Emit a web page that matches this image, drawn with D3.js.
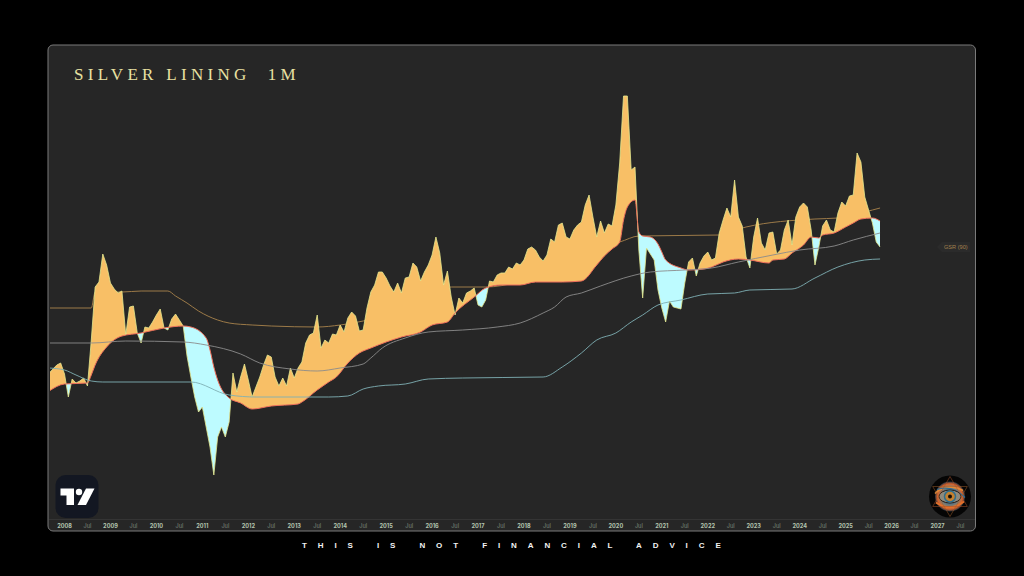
<!DOCTYPE html>
<html>
<head>
<meta charset="utf-8">
<script src="https://cdn.jsdelivr.net/npm/d3@7"></script>
<style>
  html, body { margin: 0; padding: 0; background: #000; }
  svg { display: block; }
  .tick-year { fill: #b4c4b0; font-weight: 700; }
  .tick-jul { fill: #7d8a7d; }
</style>
</head>
<body>
<svg id="chart" width="1024" height="576"></svg>
<script>
// chart units are relative (the reference has no price axis)
// bar number 0 = Jan 2008, one bar per month
const firstBar = -4;
const ratio = [
  157,161,165,167,156,133,151,147,149,152,144,190,243,248,276,265,247,241,237,239,
  195,223,224,197,187,203,202,208,215,221,202,200,211,216,210,204,174,153,133,118,
  123,103,83,55,93,103,93,108,157,138,153,166,150,133,143,153,165,175,173,153,
  144,152,144,162,152,162,168,187,195,197,215,182,190,187,196,195,205,198,212,218,
  214,199,200,222,238,245,258,258,252,244,238,247,237,252,253,267,263,249,258,265,
  275,293,277,245,259,233,215,232,227,237,239,242,225,223,230,249,248,255,257,257,
  263,261,267,265,270,281,283,280,273,269,275,291,288,305,307,293,291,300,305,308,
  325,335,313,293,309,297,306,304,325,367,434,434,360,363,280,232,282,276,270,240,
  222,208,229,223,222,221,247,268,272,254,267,274,278,270,272,297,310,322,313,350,
  313,304,273,262,293,312,287,280,297,298,276,280,300,310,285,313,323,327,323,300,
  265,283,304,310,300,298,317,328,324,334,335,377,368,333,320,307,288,283
];

const basisBars = [-4,0,6,7,8,11,15,20,26,31,33,37,38,39,40,43,46,49,54,61,62,66,69,71,74,77,80,84,88,93,96,100,102,107,110,114,119,123,130,135,139,141,143,145,146,147,149,150,151,153,155,156,157,161,163,167,169,172,176,179,184,185,188,190,193,195,197,198,201,204,206,208,211,213];
const basisValues = [139,146,147,155,165,183,194,197,202,204,203,192,180,163,150,132,127,121,124,126,128,140,148,153,167,177,182,188,193,198,205,208,217,233,242,245,245,248,248,249,265,274,281,288,310,323,330,298,294,293,286,278,270,262,260,261,263,268,271,270,267,270,271,277,285,293,292,295,297,303,307,311,312,309];

const gsrBars = [-4,7,8,15,20,27,29,32,35,40,43,49,54,66,72,78,101,110,144,145,150,171,178,196,202,211,213];
const gsrValues = [222,222,238,238,239,239,234,227,219,210,207,205,204,203,205,209,243,243,287,288,294,295,303,311,312,320,322];

const greyBars = [-4,7,16,31,37,46,51,59,66,72,78,80,83,89,95,104,113,119,125,128,131,135,140,148,153,162,169,176,185,192,201,206,213];
const greyValues = [187,187,189,188,185,176,167,161,159,162,166,172,182,192,198,200,203,207,217,223,233,237,244,254,258,260,262,268,275,280,284,290,297];

const tealBars = [-4,0,3,7,10,33,43,50,69,74,78,82,89,95,104,125,130,135,139,144,148,151,155,161,168,175,179,190,196,202,209,213];
const tealValues = [162,160,155,149,148,148,135,133,133,134,141,144,146,151,152,153,163,177,190,197,208,215,225,230,236,237,240,241,252,263,270,271];

const tickBars = d3.range(0, 40).map(d => d * 6);
const tickLabels = ["2008","Jul","2009","Jul","2010","Jul","2011","Jul","2012","Jul","2013","Jul","2014","Jul","2015","Jul","2016","Jul","2017","Jul","2018","Jul","2019","Jul","2020","Jul","2021","Jul","2022","Jul","2023","Jul","2024","Jul","2025","Jul","2026","Jul","2027","Jul"];

const orange = "#f8bf66", cyan = "#bdfbff";

const svg = d3.select("#chart");
const defs = svg.append("defs");

const x = d3.scaleLinear().domain([0, 228]).range([64.5, 937.5]);
const y = d3.scaleLinear().domain([0, 434]).range([530, 96]);

const ratioPts = ratio.map((v, i) => [firstBar + i, v]);
const zip = (bars, vals) => bars.map((b, i) => [b, vals[i]]);

const line = d3.line().x(d => x(d[0])).y(d => y(d[1]));
const smooth = d3.line().x(d => x(d[0])).y(d => y(d[1])).curve(d3.curveMonotoneX);

// panel
svg.append("rect")
  .attr("x", 48).attr("y", 45).attr("width", 927.5).attr("height", 486)
  .attr("rx", 5)
  .attr("fill", "#262626").attr("stroke", "#7a7a7a").attr("stroke-width", 1);

svg.append("line")
  .attr("x1", 49).attr("x2", 975).attr("y1", 519.5).attr("y2", 519.5)
  .attr("stroke", "#343434");

svg.append("clipPath").attr("id", "pane").append("rect")
  .attr("x", 50).attr("y", 46).attr("width", 924).attr("height", 473);

// clip regions on either side of the basis line
const basisPts = zip(basisBars, basisValues);
defs.append("clipPath").attr("id", "aboveBasis").append("path")
  .attr("d", d3.area().curve(d3.curveMonotoneX).x(d => x(d[0])).y0(0).y1(d => y(d[1]))(basisPts));
defs.append("clipPath").attr("id", "belowBasis").append("path")
  .attr("d", d3.area().curve(d3.curveMonotoneX).x(d => x(d[0])).y0(576).y1(d => y(d[1]))(basisPts));

const g = svg.append("g").attr("clip-path", "url(#pane)");

// gsr line sits under the fill
g.append("path")
  .attr("d", smooth(zip(gsrBars, gsrValues)))
  .attr("fill", "none").attr("stroke", "#9c7a48").attr("stroke-width", 1);

g.append("g").attr("clip-path", "url(#aboveBasis)").append("path")
  .attr("d", d3.area().x(d => x(d[0])).y0(576).y1(d => y(d[1]))(ratioPts))
  .attr("fill", orange);

g.append("g").attr("clip-path", "url(#belowBasis)").append("path")
  .attr("d", d3.area().x(d => x(d[0])).y0(0).y1(d => y(d[1]))(ratioPts))
  .attr("fill", cyan);

g.append("path")
  .attr("d", line(ratioPts))
  .attr("fill", "none").attr("stroke", "#e4e88e").attr("stroke-width", 0.8);

g.append("path")
  .attr("d", smooth(basisPts))
  .attr("fill", "none").attr("stroke", "#ef6f5c").attr("stroke-width", 1);

g.append("path")
  .attr("d", smooth(zip(greyBars, greyValues)))
  .attr("fill", "none").attr("stroke", "#8b8b8b").attr("stroke-width", 0.9);

g.append("path")
  .attr("d", smooth(zip(tealBars, tealValues)))
  .attr("fill", "none").attr("stroke", "#7fb0b4").attr("stroke-width", 0.9);

// time axis
const axis = d3.axisBottom(x)
  .tickValues(tickBars)
  .tickSize(0)
  .tickPadding(0)
  .tickFormat((d, i) => tickLabels[i]);

const axisG = svg.append("g").attr("transform", "translate(-0.5,524.5)").call(axis);
axisG.select(".domain").remove();
axisG.selectAll("text")
  .attr("font-family", "Inter, 'Liberation Sans', sans-serif")
  .attr("font-size", 5.6)
  .attr("class", (d, i) => tickLabels[i] === "Jul" ? "tick-jul" : "tick-year");

// titles
svg.append("text")
  .attr("x", 74).attr("y", 79.5)
  .attr("font-family", "'Liberation Serif', serif")
  .attr("font-size", 17)
  .attr("letter-spacing", 4.3)
  .attr("fill", "#e9e1a2")
  .style("white-space", "pre")
  .text("SILVER LINING  1M");

svg.append("text")
  .attr("x", 302).attr("y", 547.5)
  .attr("font-family", "'Liberation Sans', sans-serif")
  .attr("font-weight", 700)
  .attr("font-size", 8)
  .attr("letter-spacing", 10.9)
  .attr("fill", "#f2f2f2")
  .style("white-space", "pre")
  .text("THIS IS NOT FINANCIAL ADVICE");

// gsr tag on the right
svg.append("path")
  .attr("d", "M937,247 L942,242 H970 V252 H942 Z")
  .attr("fill", "#2b2b2b");
svg.append("text")
  .attr("x", 944).attr("y", 249)
  .attr("font-family", "'Liberation Sans', sans-serif")
  .attr("font-size", 5.6)
  .attr("fill", "#a5824e")
  .text("GSR (90)");

// tradingview logo
const logo = svg.append("g").attr("transform", "translate(55.5,475)");
logo.append("rect").attr("width", 43).attr("height", 43).attr("rx", 10).attr("fill", "#131722");
logo.append("path").attr("d", "M5,13.5 H18.5 V30 H11 V20.5 H5 Z").attr("fill", "#fff");
logo.append("circle").attr("cx", 23.5).attr("cy", 17).attr("r", 3.2).attr("fill", "#fff");
logo.append("path").attr("d", "M30.5,13.5 H39 L30.5,30 H22 Z").attr("fill", "#fff");

// eye avatar
const eye = svg.append("g").attr("transform", "translate(950,496.5)");
const iris = defs.append("radialGradient").attr("id", "iris");
iris.append("stop").attr("offset", "0%").attr("stop-color", "#2a1a10");
iris.append("stop").attr("offset", "22%").attr("stop-color", "#c97f2c");
iris.append("stop").attr("offset", "42%").attr("stop-color", "#3f6f8e");
iris.append("stop").attr("offset", "66%").attr("stop-color", "#8a7c6a");
iris.append("stop").attr("offset", "84%").attr("stop-color", "#d8622a");
iris.append("stop").attr("offset", "100%").attr("stop-color", "#24323f");
eye.append("circle").attr("r", 21).attr("fill", "#050505");
eye.append("circle").attr("r", 15).attr("fill", "url(#iris)");
eye.append("path").attr("d", "M-15,-3 Q-4,-14 13,-6").attr("fill", "none").attr("stroke", "#e08a3a").attr("stroke-width", 1.6);
eye.append("path").attr("d", "M-13,-7 Q2,-12 15,1").attr("fill", "none").attr("stroke", "#2f6f94").attr("stroke-width", 1.3);
eye.append("path").attr("d", "M-14,6 Q0,16 14,5").attr("fill", "none").attr("stroke", "#e2702a").attr("stroke-width", 2);
eye.append("ellipse").attr("rx", 11).attr("ry", 6.5).attr("fill", "#8f8a7c").attr("stroke", "#2b1d16").attr("stroke-width", 1);
eye.append("circle").attr("r", 5.5).attr("fill", "#c4802f").attr("stroke", "#2f6f8f").attr("stroke-width", 1.5);
eye.append("circle").attr("r", 2).attr("fill", "#120c08");
eye.append("path").attr("d", "M0,-20 L17.3,10 H-17.3 Z").attr("fill", "none").attr("stroke", "#a5502a").attr("stroke-width", 0.5);
eye.append("path").attr("d", "M0,20 L17.3,-10 H-17.3 Z").attr("fill", "none").attr("stroke", "#9c5c2a").attr("stroke-width", 0.5);
</script>
</body>
</html>
